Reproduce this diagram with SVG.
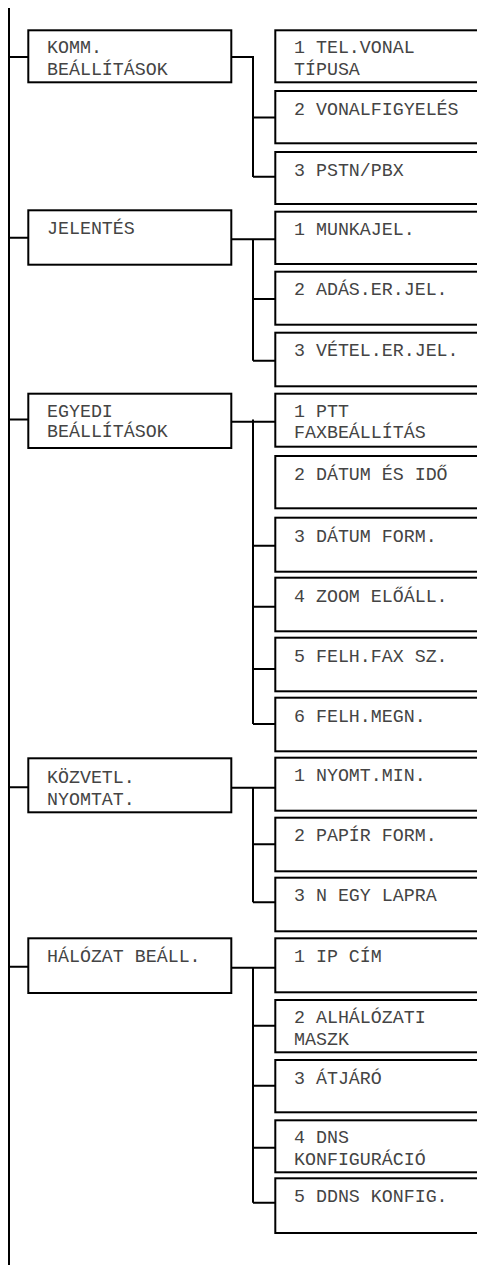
<svg xmlns="http://www.w3.org/2000/svg" width="477" height="1273" viewBox="0 0 477 1273">
<style>
.box{fill:#fff;stroke:#000;stroke-width:2}
.t{font-family:"Liberation Mono","Courier New",monospace;font-size:18.3px;fill:#444}
.c{stroke:#000;stroke-width:2;fill:none}
</style>
<rect width="477" height="1273" fill="#fff"/>
<g id="connectors" class="c">
<path d="M9 8V1265"/>
<path d="M9 57H28M232 57H253M253 56V177M253 117.5H275M253 176.7H275"/>
<path d="M9 237.7H28M232 239.3H275M253 238.3V360.7M253 299H275M253 360.7H275"/>
<path d="M9 419.5H28M232 421.7H275M253 419.5V724M253 545.7H275M253 606.7H275M253 669H275M253 724H275"/>
<path d="M9 787.3H28M232 787.7H275M253 786.7V902.3M253 844.3H275M253 902.3H275"/>
<path d="M9 966.7H28M232 967.7H275M253 966.7V1202.7M253 1025.7H275M253 1085.7H275M253 1147.7H275M253 1202.7H275"/>
</g>
<g id="p1"><rect class="box" x="28.3" y="30.3" width="203" height="52"/><text class="t" x="47" y="53">KOMM.</text><text class="t" x="47" y="75">BEÁLLÍTÁSOK</text></g>
<g id="p2"><rect class="box" x="28.3" y="210.3" width="203" height="54.4"/><text class="t" x="47" y="233.5">JELENTÉS</text></g>
<g id="p3"><rect class="box" x="28.3" y="393.7" width="203" height="54.3"/><text class="t" x="47" y="416.5">EGYEDI</text><text class="t" x="47" y="437">BEÁLLÍTÁSOK</text></g>
<g id="p4"><rect class="box" x="28.3" y="758.3" width="203" height="54"/><text class="t" x="47" y="783">KÖZVETL.</text><text class="t" x="47" y="804.5">NYOMTAT.</text></g>
<g id="p5"><rect class="box" x="28.3" y="938.3" width="203" height="54.7"/><text class="t" x="47" y="962.3">HÁLÓZAT BEÁLL.</text></g>
<g id="c1"><rect class="box" x="275.3" y="30.3" width="210" height="52"/><text class="t" x="294" y="53.3">1 TEL.VONAL</text><text class="t" x="294" y="74.5">TÍPUSA</text></g>
<g id="c2"><rect class="box" x="275.3" y="91" width="210" height="52.3"/><text class="t" x="294" y="114.5">2 VONALFIGYELÉS</text></g>
<g id="c3"><rect class="box" x="275.3" y="152" width="210" height="52"/><text class="t" x="294" y="175.5">3 PSTN/PBX</text></g>
<g id="c4"><rect class="box" x="275.3" y="211.7" width="210" height="52.3"/><text class="t" x="294" y="235">1 MUNKAJEL.</text></g>
<g id="c5"><rect class="box" x="275.3" y="271.7" width="210" height="53"/><text class="t" x="294" y="295">2 ADÁS.ER.JEL.</text></g>
<g id="c6"><rect class="box" x="275.3" y="332.7" width="210" height="53.6"/><text class="t" x="294" y="356">3 VÉTEL.ER.JEL.</text></g>
<g id="c7"><rect class="box" x="275.3" y="393.7" width="210" height="53"/><text class="t" x="294" y="416.7">1 PTT</text><text class="t" x="294" y="438">FAXBEÁLLÍTÁS</text></g>
<g id="c8"><rect class="box" x="275.3" y="456" width="210" height="52.3"/><text class="t" x="294" y="480">2 DÁTUM ÉS IDŐ</text></g>
<g id="c9"><rect class="box" x="275.3" y="517.7" width="210" height="54"/><text class="t" x="294" y="542">3 DÁTUM FORM.</text></g>
<g id="c10"><rect class="box" x="275.3" y="577.7" width="210" height="53.6"/><text class="t" x="294" y="602">4 ZOOM ELŐÁLL.</text></g>
<g id="c11"><rect class="box" x="275.3" y="637.7" width="210" height="53.6"/><text class="t" x="294" y="662">5 FELH.FAX SZ.</text></g>
<g id="c12"><rect class="box" x="275.3" y="697.7" width="210" height="53.6"/><text class="t" x="294" y="722">6 FELH.MEGN.</text></g>
<g id="c13"><rect class="box" x="275.3" y="757.7" width="210" height="53"/><text class="t" x="294" y="780.5">1 NYOMT.MIN.</text></g>
<g id="c14"><rect class="box" x="275.3" y="817.7" width="210" height="53.6"/><text class="t" x="294" y="841">2 PAPÍR FORM.</text></g>
<g id="c15"><rect class="box" x="275.3" y="877.7" width="210" height="53.6"/><text class="t" x="294" y="901">3 N EGY LAPRA</text></g>
<g id="c16"><rect class="box" x="275.3" y="938.3" width="210" height="54"/><text class="t" x="294" y="962.3">1 IP CÍM</text></g>
<g id="c17"><rect class="box" x="275.3" y="1000" width="210" height="52.3"/><text class="t" x="294" y="1023">2 ALHÁLÓZATI</text><text class="t" x="294" y="1045">MASZK</text></g>
<g id="c18"><rect class="box" x="275.3" y="1060" width="210" height="52.3"/><text class="t" x="294" y="1083.5">3 ÁTJÁRÓ</text></g>
<g id="c19"><rect class="box" x="275.3" y="1120.3" width="210" height="52"/><text class="t" x="294" y="1143">4 DNS</text><text class="t" x="294" y="1165">KONFIGURÁCIÓ</text></g>
<g id="c20"><rect class="box" x="275.3" y="1178.3" width="210" height="54.7"/><text class="t" x="294" y="1202">5 DDNS KONFIG.</text></g>
</svg>
